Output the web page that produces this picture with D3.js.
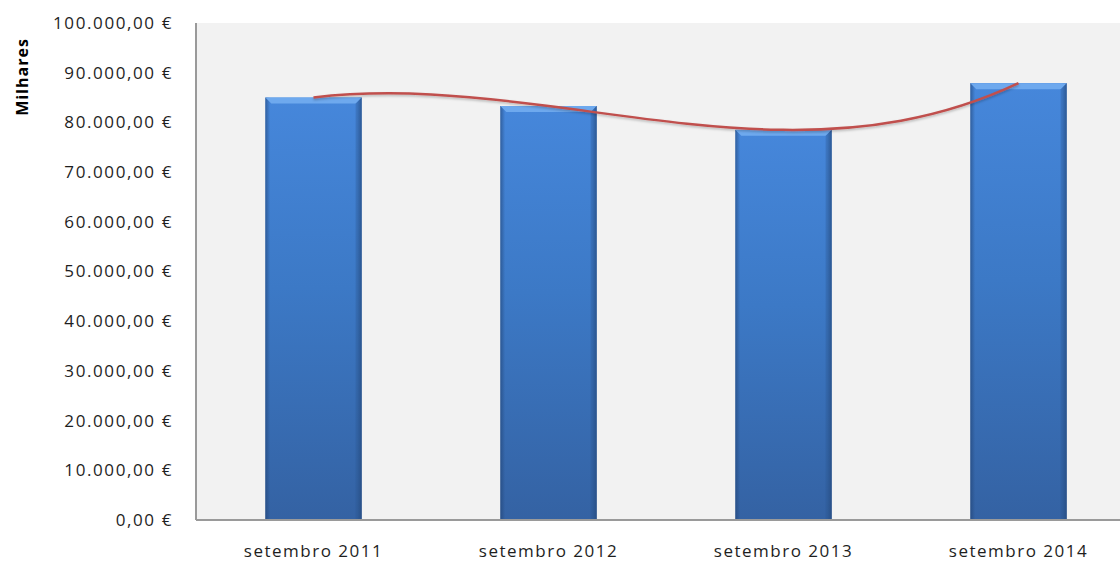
<!DOCTYPE html>
<html>
<head>
<meta charset="utf-8">
<script src="https://cdn.jsdelivr.net/npm/d3@7"></script>
<style>
  body { margin: 0; background: #fff; }
  svg { display: block; }
  .tick text { font-family: "Open Sans", sans-serif; fill: #1e1e1e; }
</style>
</head>
<body>
<svg width="1120" height="563"></svg>
<script>

// chart data
var categories = ["setembro 2011", "setembro 2012", "setembro 2013", "setembro 2014"];
var values = [85000, 83300, 78500, 87900];
var yTicks = [0, 10000, 20000, 30000, 40000, 50000, 60000, 70000, 80000, 90000, 100000];
var yTitle = "Milhares";

var svg = d3.select("svg"),
  margin = {top: 23, right: -16, bottom: 43, left: 196},
  width = 1120 - margin.left - margin.right,
  height = 563 - margin.top - margin.bottom;

var defs = svg.append("defs");

// bar body gradient
var grad = defs.append("linearGradient").attr("id", "barfill")
  .attr("x1", 0).attr("y1", 0).attr("x2", 0).attr("y2", 1);
grad.append("stop").attr("offset", "0%").attr("stop-color", "#4687db");
grad.append("stop").attr("offset", "45%").attr("stop-color", "#3c79c6");
grad.append("stop").attr("offset", "100%").attr("stop-color", "#3462a3");

// darker sides
var side = defs.append("linearGradient").attr("id", "barside")
  .attr("x1", 0).attr("y1", 0).attr("x2", 1).attr("y2", 0);
side.append("stop").attr("offset", "0%").attr("stop-color", "#1f3f6e").attr("stop-opacity", 0.55);
side.append("stop").attr("offset", "5%").attr("stop-color", "#1f3f6e").attr("stop-opacity", 0);
side.append("stop").attr("offset", "95%").attr("stop-color", "#1f3f6e").attr("stop-opacity", 0);
side.append("stop").attr("offset", "100%").attr("stop-color", "#1f3f6e").attr("stop-opacity", 0.6);

var shadow = defs.append("filter").attr("id", "lineshadow")
  .attr("x", "-5%").attr("y", "-50%").attr("width", "110%").attr("height", "200%");
shadow.append("feDropShadow").attr("dx", 0).attr("dy", 1.5).attr("stdDeviation", 1)
  .attr("flood-color", "#000").attr("flood-opacity", 0.25);

var x = d3.scaleBand()
  .domain(categories)
  .range([0, width])
  .paddingInner(0.59)
  .paddingOuter(0.295);

var y = d3.scaleLinear()
  .domain([0, 100000])
  .range([height, 0]);

var g = svg.append("g")
  .attr("transform", "translate(" + margin.left + "," + margin.top + ")");

// plot area
g.append("rect")
  .attr("x", 0).attr("y", 0)
  .attr("width", width).attr("height", height)
  .attr("fill", "#f2f2f2");

// bars
var bar = g.selectAll(".bar").data(values).enter().append("g").attr("class", "bar");

bar.append("rect")
  .attr("x", function(d, i) { return x(categories[i]); })
  .attr("y", function(d) { return y(d); })
  .attr("width", x.bandwidth())
  .attr("height", function(d) { return height - y(d); })
  .attr("fill", "url(#barfill)");

bar.append("rect")
  .attr("x", function(d, i) { return x(categories[i]); })
  .attr("y", function(d) { return y(d); })
  .attr("width", x.bandwidth())
  .attr("height", function(d) { return height - y(d); })
  .attr("fill", "url(#barside)");

// bevel on top of each bar
bar.append("path")
  .attr("d", function(d, i) {
    var x0 = x(categories[i]), x1 = x0 + x.bandwidth(), y0 = y(d), b = 6;
    return "M" + x0 + "," + y0 + "L" + x1 + "," + y0 + "L" + (x1 - b) + "," + (y0 + b) +
      "L" + (x0 + b) + "," + (y0 + b) + "Z";
  })
  .attr("fill", "#6ea9ee");

bar.append("path")
  .attr("d", function(d, i) {
    var x0 = x(categories[i]), x1 = x0 + x.bandwidth(), y0 = y(d), b = 6;
    return "M" + (x1 - b) + "," + (y0 + b) + "L" + x1 + "," + y0 + "L" + x1 + "," + y(0) +
      "L" + (x1 - b) + "," + y(0) + "Z";
  })
  .attr("fill", "#2a5590").attr("opacity", 0.35);

// smooth line, tangents from the polynomial through all the points (excel-like)
function curveExcel(context) {
  var xs, ys;
  return {
    areaStart: function() {},
    areaEnd: function() {},
    lineStart: function() { xs = []; ys = []; },
    point: function(px, py) { xs.push(+px); ys.push(+py); },
    lineEnd: function() {
      var n = xs.length;
      if (!n) return;
      var m = xs.map(function(xi, i) {
        var s = 0;
        for (var j = 0; j < n; j++) {
          var dl;
          if (j == i) {
            dl = 0;
            for (var k = 0; k < n; k++) if (k != i) dl += 1 / (xi - xs[k]);
          } else {
            var num = 1, den = 1;
            for (var k = 0; k < n; k++) {
              if (k == j) continue;
              den *= (xs[j] - xs[k]);
              if (k != i) num *= (xi - xs[k]);
            }
            dl = num / den;
          }
          s += ys[j] * dl;
        }
        return s;
      });
      context.moveTo(xs[0], ys[0]);
      for (var i = 0; i < n - 1; i++) {
        var h = xs[i + 1] - xs[i];
        context.bezierCurveTo(xs[i] + h / 3, ys[i] + m[i] * h / 3,
          xs[i + 1] - h / 3, ys[i + 1] - m[i + 1] * h / 3, xs[i + 1], ys[i + 1]);
      }
    }
  };
}

var line = d3.line()
  .x(function(d, i) { return x(categories[i]) + x.bandwidth() / 2; })
  .y(function(d) { return y(d); })
  .curve(curveExcel);

g.append("path")
  .datum(values)
  .attr("d", line)
  .attr("fill", "none")
  .attr("stroke", "#c0504d")
  .attr("stroke-width", 2.5)
  .attr("filter", "url(#lineshadow)");

// axes
var yAxis = g.append("g")
  .call(d3.axisLeft(y).tickValues(yTicks).tickSize(0).tickPadding(23)
    .tickFormat(function(d) {
      return d3.format(",.2f")(d).replace(/,/g, " ").replace(".", ",").replace(/ /g, ".") + " €";
    }));
yAxis.select(".domain").remove();
yAxis.selectAll("text").style("font-size", "17px").attr("letter-spacing", "1.6px");

var xAxis = g.append("g")
  .attr("transform", "translate(0," + height + ")")
  .call(d3.axisBottom(x).tickSize(0).tickPadding(25));
xAxis.select(".domain").remove();
xAxis.selectAll("text").style("font-size", "17px").attr("letter-spacing", "1.5px");

// axis lines
g.append("line")
  .attr("x1", 0).attr("x2", 0).attr("y1", 0).attr("y2", height)
  .attr("stroke", "#9a9a9a").attr("stroke-width", 2);
g.append("line")
  .attr("x1", 0).attr("x2", width).attr("y1", height).attr("y2", height)
  .attr("stroke", "#9a9a9a").attr("stroke-width", 2);

svg.append("text")
  .attr("transform", "translate(28,77) rotate(-90)")
  .attr("text-anchor", "middle")
  .style("font-family", "'Open Sans', sans-serif")
  .style("font-weight", "bold")
  .style("font-size", "16px")
  .attr("letter-spacing", "1px")
  .attr("fill", "#000")
  .text(yTitle);

</script>
</body>
</html>
